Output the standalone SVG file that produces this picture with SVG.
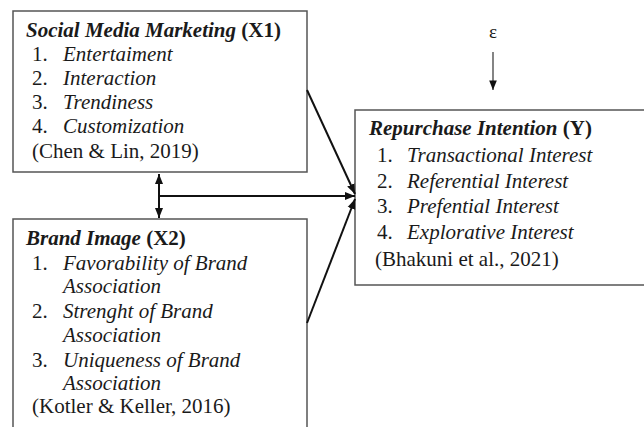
<svg xmlns="http://www.w3.org/2000/svg" width="644" height="427" viewBox="0 0 644 427">
  <style>
    .frame { fill: #ffffff; stroke: #555555; stroke-width: 1.5; }
    .label { font-family: 'Liberation Serif', serif; font-size: 21px; fill: #1a1a1a; }
    .head-em { font-weight: bold; font-style: italic; }
    .head-bold { font-weight: bold; }
    .item-em { font-style: italic; }
    .link { stroke: #111111; stroke-width: 2; fill: none; }
    .link-thin { stroke: #333333; stroke-width: 1.2; fill: none; }
  </style>
  <defs>
    <marker id="head" viewBox="0 0 10 10" refX="10" refY="5" markerWidth="5" markerHeight="5" orient="auto-start-reverse" markerUnits="strokeWidth">
      <path d="M0,1 L10,5 L0,9 Z" fill="#111111"/>
    </marker>
    <marker id="headThin" viewBox="0 0 10 10" refX="10" refY="5" markerWidth="8" markerHeight="8" orient="auto" markerUnits="strokeWidth">
      <path d="M0,1 L10,5 L0,9 Z" fill="#111111"/>
    </marker>
  </defs>

  <rect width="644" height="427" fill="#ffffff"/>

  <!-- Social Media Marketing (X1) -->
  <g id="node-x1">
    <rect class="frame" x="13" y="11" width="294" height="161"/>
    <text class="label" x="26" y="37"><tspan class="head-em">Social Media Marketing</tspan><tspan class="head-bold"> (X1)</tspan></text>
    <text class="label" x="32" y="61">1.</text><text class="label item-em" x="63" y="61">Entertaiment</text>
    <text class="label" x="32" y="85">2.</text><text class="label item-em" x="63" y="85">Interaction</text>
    <text class="label" x="32" y="109">3.</text><text class="label item-em" x="63" y="109">Trendiness</text>
    <text class="label" x="32" y="133">4.</text><text class="label item-em" x="63" y="133">Customization</text>
    <text class="label" x="32" y="158">(Chen &amp; Lin, 2019)</text>
  </g>

  <!-- Brand Image (X2) -->
  <g id="node-x2">
    <rect class="frame" x="13" y="219" width="294" height="230"/>
    <text class="label" x="26" y="245"><tspan class="head-em">Brand Image</tspan><tspan class="head-bold"> (X2)</tspan></text>
    <text class="label" x="32" y="270">1.</text><text class="label item-em" x="63" y="270">Favorability of Brand</text>
    <text class="label item-em" x="63" y="293">Association</text>
    <text class="label" x="32" y="318">2.</text><text class="label item-em" x="63" y="318">Strenght of Brand</text>
    <text class="label item-em" x="63" y="342">Association</text>
    <text class="label" x="32" y="367">3.</text><text class="label item-em" x="63" y="367">Uniqueness of Brand</text>
    <text class="label item-em" x="63" y="390">Association</text>
    <text class="label" x="32" y="413">(Kotler &amp; Keller, 2016)</text>
  </g>

  <!-- Repurchase Intention (Y) -->
  <g id="node-y">
    <rect class="frame" x="355" y="110" width="300" height="175"/>
    <text class="label" x="369" y="135"><tspan class="head-em">Repurchase Intention</tspan><tspan class="head-bold"> (Y)</tspan></text>
    <text class="label" x="377" y="162">1.</text><text class="label item-em" x="407" y="162">Transactional Interest</text>
    <text class="label" x="377" y="188">2.</text><text class="label item-em" x="407" y="188">Referential Interest</text>
    <text class="label" x="377" y="213">3.</text><text class="label item-em" x="407" y="213">Prefential Interest</text>
    <text class="label" x="377" y="239">4.</text><text class="label item-em" x="407" y="239">Explorative Interest</text>
    <text class="label" x="375" y="266">(Bhakuni et al., 2021)</text>
  </g>

  <!-- Error term -->
  <g id="node-error">
    <text class="label" x="493" y="38" text-anchor="middle" style="font-size:19px">ε</text>
  </g>

  <g id="connectors">
    <line class="link" x1="159" y1="174" x2="159" y2="218" marker-start="url(#head)" marker-end="url(#head)"/>
    <line class="link" x1="159" y1="196" x2="355" y2="196" marker-end="url(#head)"/>
    <line class="link" x1="307" y1="90" x2="355" y2="194" marker-end="url(#head)"/>
    <line class="link" x1="307" y1="323" x2="355" y2="199" marker-end="url(#head)"/>
    <line class="link-thin" x1="493" y1="52" x2="493" y2="90" marker-end="url(#headThin)"/>
  </g>
</svg>
